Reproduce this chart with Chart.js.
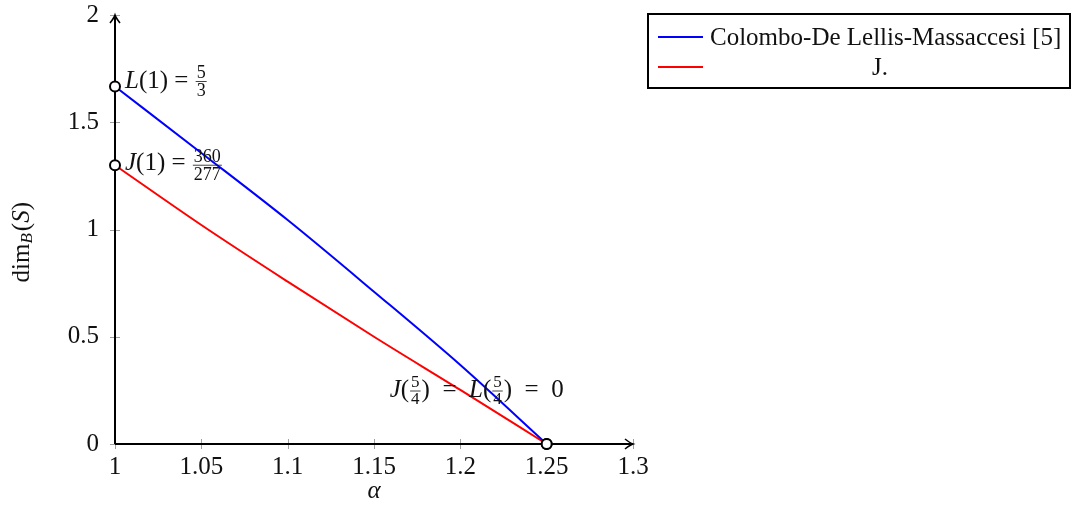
<!DOCTYPE html>
<html>
<head>
<meta charset="utf-8">
<script src="https://cdn.jsdelivr.net/npm/chart.js@4/dist/chart.umd.min.js"></script>
<style>
  html, body { margin: 0; padding: 0; background: #fff; }
  #wrap { width: 1071px; height: 506px; position: relative; }
</style>
</head>
<body>
<div id="wrap"><canvas id="chart-1"></canvas></div>
<script>
// values
const alphaVals = [1, 1.05, 1.1, 1.15, 1.2, 1.25];
const lValues = [5 / 3, 1.357, 1.044, 0.710, 0.368, 0];
const jValues = [360 / 277, 1.021, 0.757, 0.500, 0.252, 0];
const seriesNames = ["Colombo-De Lellis-Massaccesi [5]", "J."];
const xTickLabels = ["1", "1.05", "1.1", "1.15", "1.2", "1.25", "1.3"];
const yTickLabels = ["0", "0.5", "1", "1.5", "2"];

const serif = "'Liberation Serif', 'DejaVu Serif', serif";
const textSize = 25;

function endPoints(ctx) {
  const n = ctx.dataset.data.length;
  return (ctx.dataIndex === 0 || ctx.dataIndex === n - 1) ? 5 : 0;
}

// draws a small piece of math: plain text, italic text and stacked fractions
function fracWidth(ctx, p) {
  ctx.font = `${p.fs}px ${serif}`;
  return Math.max(ctx.measureText(p.fr[0]).width, ctx.measureText(p.fr[1]).width) + 4;
}
function mathWidth(ctx, parts, size) {
  let w = 0;
  parts.forEach(p => {
    if (p.fr) {
      w += fracWidth(ctx, p);
    } else {
      ctx.font = `${p.it ? "italic " : ""}${size}px ${serif}`;
      w += ctx.measureText(p.t).width;
    }
  });
  return w;
}
function drawMath(ctx, parts, x, base, size) {
  ctx.textBaseline = "alphabetic";
  ctx.textAlign = "left";
  ctx.fillStyle = "#111";
  parts.forEach(p => {
    if (p.fr) {
      const w = fracWidth(ctx, p);
      ctx.textAlign = "center";
      ctx.fillText(p.fr[0], x + w / 2, base + p.up);
      ctx.fillText(p.fr[1], x + w / 2, base + p.down);
      ctx.textAlign = "left";
      ctx.strokeStyle = "#111";
      ctx.lineWidth = 0.8;
      ctx.beginPath();
      ctx.moveTo(x + 1, base + p.bar);
      ctx.lineTo(x + w - 1, base + p.bar);
      ctx.stroke();
      x += w;
    } else {
      ctx.font = `${p.it ? "italic " : ""}${size}px ${serif}`;
      ctx.fillText(p.t, x, base);
      x += ctx.measureText(p.t).width;
    }
  });
}

const texPlugin = {
  id: "tex",
  beforeDatasetsDraw(chart) {
    const ctx = chart.ctx;
    const xs = chart.scales.x, ys = chart.scales.y;
    const x0 = xs.getPixelForValue(xs.min), x1 = xs.getPixelForValue(xs.max);
    const y0 = ys.getPixelForValue(ys.min), y1 = ys.getPixelForValue(ys.max);
    ctx.save();
    // small tick marks crossing the axes
    ctx.strokeStyle = "#a0a0a0";
    ctx.lineWidth = 1;
    xs.ticks.forEach(t => {
      const px = Math.round(xs.getPixelForValue(t.value)) + 0.5;
      ctx.beginPath(); ctx.moveTo(px, y0 - 5); ctx.lineTo(px, y0 + 5); ctx.stroke();
    });
    ys.ticks.forEach(t => {
      const py = Math.round(ys.getPixelForValue(t.value)) + 0.5;
      ctx.beginPath(); ctx.moveTo(x0 - 5, py); ctx.lineTo(x0 + 5, py); ctx.stroke();
    });
    // axis lines with arrow heads
    ctx.strokeStyle = "#000";
    ctx.lineWidth = 2;
    ctx.beginPath(); ctx.moveTo(x0, y0); ctx.lineTo(x1, y0); ctx.stroke();
    ctx.beginPath(); ctx.moveTo(x0, y0); ctx.lineTo(x0, y1); ctx.stroke();
    ctx.lineWidth = 1.6;
    ctx.beginPath(); ctx.moveTo(x1 - 8, y0 - 5); ctx.quadraticCurveTo(x1 - 3, y0 - 1, x1, y0); ctx.quadraticCurveTo(x1 - 3, y0 + 1, x1 - 8, y0 + 5); ctx.stroke();
    ctx.beginPath(); ctx.moveTo(x0 - 5, y1 + 8); ctx.quadraticCurveTo(x0 - 1, y1 + 3, x0, y1); ctx.quadraticCurveTo(x0 + 1, y1 + 3, x0 + 5, y1 + 8); ctx.stroke();
    ctx.restore();
  },
  afterDatasetsDraw(chart) {
    const ctx = chart.ctx;
    const xs = chart.scales.x, ys = chart.scales.y;
    const area = chart.chartArea;
    ctx.save();

    // point annotations
    const px1 = xs.getPixelForValue(alphaVals[0]);
    const lParts = [{ t: "L", it: true }, { t: "(1) = " }, { fr: ["5", "3"], fs: 18, up: -10, down: 8, bar: -6 }];
    drawMath(ctx, lParts, px1 + 10, ys.getPixelForValue(lValues[0]) + 1, textSize);
    const jParts = [{ t: "J", it: true }, { t: "(1) = " }, { fr: ["360", "277"], fs: 18, up: -8, down: 10, bar: -5 }];
    drawMath(ctx, jParts, px1 + 10, ys.getPixelForValue(jValues[0]) + 5, textSize);
    const q = { fr: ["5", "4"], fs: 17, up: -10, down: 7, bar: -6 };
    const endParts = [{ t: "J", it: true }, { t: "(" }, q, { t: ")  =  " }, { t: "L", it: true }, { t: "(" }, q, { t: ")  =  0" }];
    const last = alphaVals.length - 1;
    const endW = mathWidth(ctx, endParts, textSize);
    drawMath(ctx, endParts, xs.getPixelForValue(alphaVals[last]) + 17 - endW, ys.getPixelForValue(lValues[last]) - 47, textSize);

    // y axis title: dim_B(S)
    ctx.translate(area.left - 93, (area.top + area.bottom) / 2 + 12);
    ctx.rotate(-Math.PI / 2);
    ctx.fillStyle = "#111";
    ctx.textBaseline = "middle";
    ctx.font = `${textSize}px ${serif}`;
    const wDim = ctx.measureText("dim").width;
    ctx.font = `italic 17px ${serif}`;
    const wB = ctx.measureText("B").width + 2;
    ctx.font = `${textSize}px ${serif}`;
    const wRest = ctx.measureText("(S)").width;
    let tx = -(wDim + wB + wRest) / 2;
    ctx.textAlign = "left";
    ctx.fillText("dim", tx, 0); tx += wDim;
    ctx.font = `italic 17px ${serif}`;
    ctx.fillText("B", tx, 6); tx += wB;
    ctx.font = `${textSize}px ${serif}`;
    ctx.fillText("(", tx, 0); tx += ctx.measureText("(").width;
    ctx.font = `italic ${textSize}px ${serif}`;
    ctx.fillText("S", tx, 0); tx += ctx.measureText("S").width;
    ctx.font = `${textSize}px ${serif}`;
    ctx.fillText(")", tx, 0);
    ctx.restore();

    // legend box
    ctx.save();
    const bx = area.right + 15, by = 14, bw = 422, bh = 74;
    ctx.strokeStyle = "#000";
    ctx.lineWidth = 2;
    ctx.strokeRect(bx, by, bw, bh);
    ctx.font = `${textSize}px ${serif}`;
    ctx.fillStyle = "#111";
    ctx.textBaseline = "middle";
    chart.data.datasets.forEach((ds, i) => {
      const ly = by + 23 + i * 30;
      ctx.strokeStyle = ds.borderColor;
      ctx.lineWidth = 2;
      ctx.beginPath(); ctx.moveTo(bx + 10, ly); ctx.lineTo(bx + 55, ly); ctx.stroke();
      if (i === 0) {
        ctx.textAlign = "left";
        ctx.fillText(ds.label, bx + 62, ly + 1);
      } else {
        ctx.textAlign = "center";
        ctx.fillText(ds.label, bx + 232, ly + 1);
      }
    });
    ctx.restore();
  }
};

const tickFont = { size: textSize, family: serif };

new Chart(document.getElementById("chart-1"), {
  type: "line",
  data: {
    datasets: [
      {
        label: seriesNames[0],
        data: alphaVals.map((a, i) => ({ x: a, y: lValues[i] })),
        borderColor: "#0000ff",
        borderWidth: 2,
        cubicInterpolationMode: "monotone",
        pointRadius: endPoints,
        pointBackgroundColor: "#fff",
        pointBorderColor: "#000",
        pointBorderWidth: 2,
        clip: false
      },
      {
        label: seriesNames[1],
        data: alphaVals.map((a, i) => ({ x: a, y: jValues[i] })),
        borderColor: "#ff0000",
        borderWidth: 2,
        cubicInterpolationMode: "monotone",
        pointRadius: endPoints,
        pointBackgroundColor: "#fff",
        pointBorderColor: "#000",
        pointBorderWidth: 2,
        clip: false
      }
    ]
  },
  options: {
    responsive: true,
    maintainAspectRatio: false,
    animation: false,
    layout: { padding: { top: 15, right: 438, left: 0, bottom: 0 } },
    plugins: {
      legend: { display: false },
      tooltip: { enabled: false }
    },
    scales: {
      x: {
        type: "linear",
        min: 1,
        max: 1.3,
        afterBuildTicks: s => { s.ticks = xTickLabels.map(v => ({ value: Number(v) })); },
        afterFit: s => { s.height = 62; s.paddingLeft = 0; s.paddingRight = 0; },
        grid: { display: false, drawTicks: false },
        border: { display: false },
        ticks: {
          color: "#111",
          font: tickFont,
          padding: 8,
          maxRotation: 0,
          callback: (v, i) => xTickLabels[i]
        },
        title: {
          display: true,
          text: "α",
          color: "#111",
          font: { size: textSize, family: serif, style: "italic" },
          padding: { top: 0, bottom: 0 }
        }
      },
      y: {
        min: 0,
        max: 2,
        afterBuildTicks: s => { s.ticks = yTickLabels.map(v => ({ value: Number(v) })); },
        afterFit: s => { s.width = 115; s.paddingTop = 0; s.paddingBottom = 0; },
        grid: { display: false, drawTicks: false },
        border: { display: false },
        ticks: {
          color: "#111",
          font: tickFont,
          padding: 16,
          callback: (v, i) => yTickLabels[i]
        }
      }
    }
  },
  plugins: [texPlugin]
});
</script>
</body>
</html>
